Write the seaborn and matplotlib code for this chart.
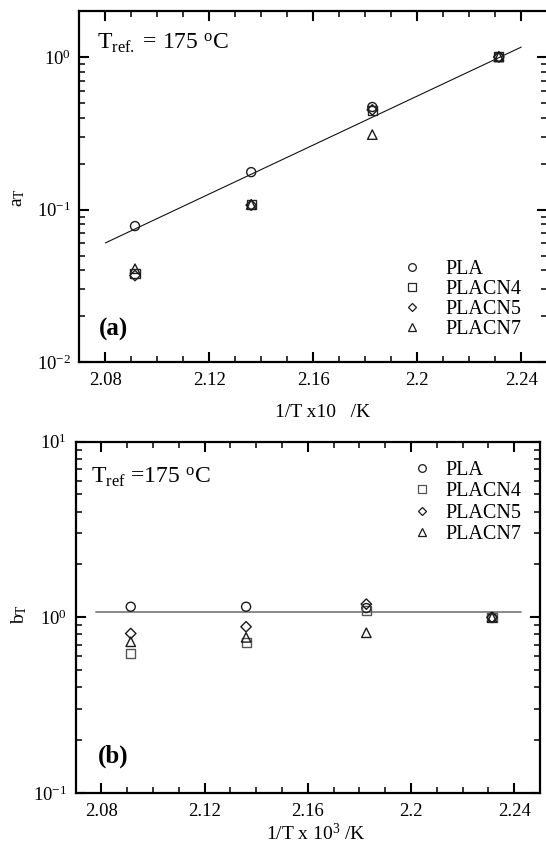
import matplotlib
matplotlib.use("Agg")
import matplotlib.pyplot as plt
import seaborn as sns
import pandas as pd
from matplotlib.lines import Line2D
from matplotlib.ticker import LogLocator, MultipleLocator, FixedLocator, NullFormatter, FixedFormatter

# ---------------- data ----------------
inv_T = [2.0914, 2.1361, 2.1827, 2.2314]          # 1/T x 10^3 (1/K)
samples = ["PLA", "PLACN4", "PLACN5", "PLACN7"]

aT_PLA = [0.078, 0.176, 0.47, 1.0]
aT_PLACN4 = [0.038, 0.108, 0.445, 1.0]
aT_PLACN5 = [0.037, 0.107, 0.45, 1.0]
aT_PLACN7 = [0.041, 0.108, 0.31, 1.0]

bT_PLA = [1.15, 1.15, 1.13, 1.0]
bT_PLACN4 = [0.624, 0.717, 1.09, 1.0]
bT_PLACN5 = [0.81, 0.885, 1.19, 1.0]
bT_PLACN7 = [0.727, 0.77, 0.818, 1.0]

aT_fit_x = [2.08, 2.24]
aT_fit_y = [0.0605, 1.16]
bT_fit_x = [2.078, 2.2426]
bT_fit_y = [1.075, 1.075]

x_ticks = [2.08, 2.12, 2.16, 2.2, 2.24]
x_ticklabels = ["2.08", "2.12", "2.16", "2.2", "2.24"]

aT = {"PLA": aT_PLA, "PLACN4": aT_PLACN4, "PLACN5": aT_PLACN5, "PLACN7": aT_PLACN7}
bT = {"PLA": bT_PLA, "PLACN4": bT_PLACN4, "PLACN5": bT_PLACN5, "PLACN7": bT_PLACN7}

# ---------------- style ----------------
sns.set_theme(style="ticks")
plt.rcParams["font.family"] = ["Liberation Serif", "DejaVu Serif"]
plt.rcParams["mathtext.fontset"] = "custom"
plt.rcParams["mathtext.rm"] = "Liberation Serif"
plt.rcParams["mathtext.it"] = "Liberation Serif:italic"
plt.rcParams["mathtext.bf"] = "Liberation Serif:bold"
plt.rcParams["text.color"] = "black"
plt.rcParams["axes.labelcolor"] = "black"
plt.rcParams["xtick.color"] = "black"
plt.rcParams["ytick.color"] = "black"
plt.rcParams["xtick.labelcolor"] = "black"
plt.rcParams["ytick.labelcolor"] = "black"

markers = {"PLA": "o", "PLACN4": "s", "PLACN5": "D", "PLACN7": "^"}
msize = {"PLA": 6.5, "PLACN4": 6.5, "PLACN5": 5.3, "PLACN7": 6.8}
top_col = {"PLA": "#1a1a1a", "PLACN4": "#262626", "PLACN5": "#1a1a1a", "PLACN7": "#1a1a1a"}
bot_col = {"PLA": "#1a1a1a", "PLACN4": "#555555", "PLACN5": "#1a1a1a", "PLACN7": "#1a1a1a"}

fig = plt.figure(figsize=(5.46, 8.46), dpi=100)
ax1 = fig.add_axes([0.1454, 0.5718, 0.8568, 0.4152])
ax2 = fig.add_axes([0.1383, 0.0623, 0.8507, 0.4158])


def style_axes(ax):
    ax.set_yscale("log")
    ax.set_xlim(2.07, 2.25)
    ax.xaxis.set_major_locator(FixedLocator(x_ticks))
    ax.xaxis.set_major_formatter(FixedFormatter(x_ticklabels))
    ax.xaxis.set_minor_locator(MultipleLocator(0.01))
    ax.yaxis.set_major_locator(LogLocator(base=10))
    ax.yaxis.set_minor_locator(LogLocator(base=10, subs=[2, 3, 4, 5, 6, 7, 8, 9]))
    ax.yaxis.set_minor_formatter(NullFormatter())
    ax.tick_params(which="both", direction="in", top=True, right=True, colors="black")
    ax.tick_params(which="major", length=7.5, width=1.5, labelsize=13.5)
    ax.tick_params(which="minor", length=4, width=1.1)
    ax.tick_params(axis="x", which="major", pad=7)
    ax.tick_params(axis="y", which="major", pad=6)
    for s in ax.spines.values():
        s.set_linewidth(1.6)
        s.set_color("black")
        s.set_visible(True)
    ax.set_facecolor("white")


def draw(ax, data, cols):
    for name in samples:
        before = len(ax.collections)
        sns.scatterplot(x=inv_T, y=data[name], marker=markers[name],
                        s=msize[name] ** 2, ax=ax, legend=False, zorder=3)
        for c in ax.collections[before:]:
            c.set_facecolor("none")
            c.set_edgecolor(cols[name])
            c.set_linewidth(1.0)


# ---------------- panel (a) ----------------
sns.lineplot(x=aT_fit_x, y=aT_fit_y, ax=ax1, color="#111111", linewidth=0.8, legend=False)
draw(ax1, aT, top_col)
style_axes(ax1)
ax1.set_ylim(0.01, 2.0)

handles = [Line2D([], [], linestyle="none", marker=markers[n], markersize=msize[n] * 0.85,
                  markerfacecolor="none", markeredgecolor=top_col[n], markeredgewidth=0.9)
           for n in samples]
ax1.legend(handles, samples, loc="center left", bbox_to_anchor=(0.690, 0.178),
           frameon=False, fontsize=14.5, handlelength=1.0, handletextpad=1.14,
           labelspacing=0.05, borderpad=0, borderaxespad=0)

ax1.text(0.0385, 0.892, r"T$_{\mathrm{ref.}}$ = 175 $^{\mathrm{o}}$C", transform=ax1.transAxes,
         fontsize=17, ha="left", va="baseline", color="black")
ax1.text(0.042, 0.092, "(a)", transform=ax1.transAxes, fontsize=18, fontweight="bold",
         ha="left", va="center", color="black")
ax1.set_xlabel("1/T x10   /K", fontsize=14)
ax1.xaxis.label.set_va("center")
ax1.xaxis.set_label_coords(0.52, -0.144)
ax1.set_ylabel(r"a$_{\mathrm{T}}$", fontsize=14)
ax1.yaxis.label.set_va("center")
ax1.yaxis.set_label_coords(-0.13, 0.47)

# ---------------- panel (b) ----------------
sns.lineplot(x=bT_fit_x, y=bT_fit_y, ax=ax2, color="#808080", linewidth=1.3, legend=False)
draw(ax2, bT, bot_col)
style_axes(ax2)
ax2.set_ylim(0.1, 10)

handles2 = [Line2D([], [], linestyle="none", marker=markers[n], markersize=msize[n] * 0.85,
                   markerfacecolor="none", markeredgecolor=bot_col[n], markeredgewidth=0.9)
            for n in samples]
ax2.legend(handles2, samples, loc="center left", bbox_to_anchor=(0.7234, 0.827),
           frameon=False, fontsize=14.5, handlelength=1.0, handletextpad=0.67,
           labelspacing=0.12, borderpad=0, borderaxespad=0)

ax2.text(0.033, 0.882, r"T$_{\mathrm{ref}}$ =175 $^{\mathrm{o}}$C", transform=ax2.transAxes,
         fontsize=17, ha="left", va="baseline", color="black")
ax2.text(0.049, 0.104, "(b)", transform=ax2.transAxes, fontsize=18, fontweight="bold",
         ha="left", va="center", color="black")
ax2.set_xlabel(r"1/T x 10$^{3}$ /K", fontsize=14)
ax2.xaxis.label.set_va("center")
ax2.xaxis.set_label_coords(0.517, -0.113)
ax2.set_ylabel(r"b$_{\mathrm{T}}$", fontsize=14)
ax2.yaxis.label.set_va("center")
ax2.yaxis.set_label_coords(-0.122, 0.51)

fig.savefig("out.png", dpi=100, facecolor="white")
